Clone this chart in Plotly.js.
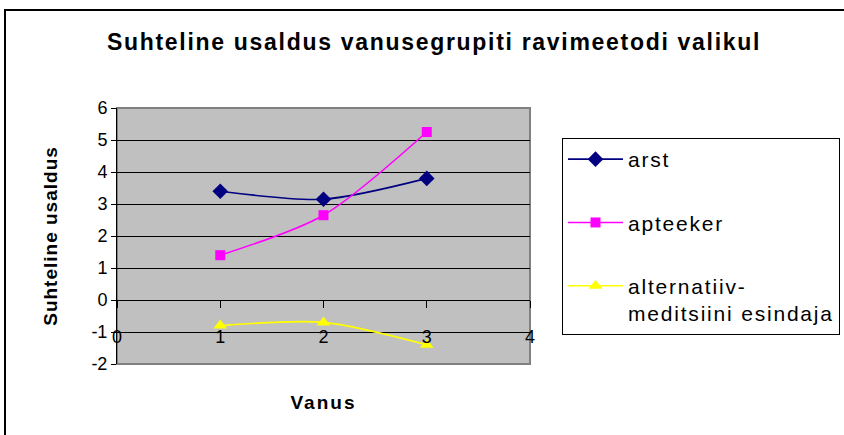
<!DOCTYPE html>
<html>
<head>
<meta charset="utf-8">
<script src="https://cdn.plot.ly/plotly-3.0.1.min.js"></script>
<style>
html,body{margin:0;padding:0;background:#fff;}
#chart{width:844px;height:435px;}
.gtitle{letter-spacing:1.7px;}
.ytitle{letter-spacing:1px;}
.xtitle{letter-spacing:2px;}
.legendtext{letter-spacing:1.8px;}
</style>
</head>
<body>
<div id="chart"></div>
<script>
const ages = [1, 2, 3];
const arst = [3.4, 3.15, 3.8];
const apteeker = [1.4, 2.65, 5.25];
const alternatiiv = [-0.8, -0.7, -1.4];
const seriesNames = ['arst', 'apteeker', 'alternatiiv-<br>meditsiini esindaja'];
const xTicks = [0, 1, 2, 3, 4];
const yTicks = [-2, -1, 0, 1, 2, 3, 4, 5, 6];

const FONT = 'Liberation Sans, Arial, sans-serif';
function tr(y, name, color, symbol, size, g) {
  return {
    x: ages, y: y, name: name, type: 'scatter', mode: 'lines+markers',
    legendgroup: g,
    line: {color: color, width: 1.6, shape: 'spline', smoothing: 0.8},
    marker: {color: color, symbol: symbol, size: size, line: {width: 0}}
  };
}
const data = [
  tr(arst, seriesNames[0], '#000080', 'diamond', 12, 'a'),
  tr(apteeker, seriesNames[1], '#FF00FF', 'square', 10, 'b'),
  tr(alternatiiv, seriesNames[2], '#FFFF00', 'triangle-up', 12, 'c')
];

const L = 117, R = 530, T = 108, B = 364;
const W = 844, H = 435;
const pw = R - L, ph = B - T;
function px(x) { return (x - L) / pw; }
function py(y) { return (B - y) / ph; }

const layout = {
  width: W, height: H,
  margin: {l: L, r: W - R, t: T, b: H - B, pad: 0, autoexpand: false},
  paper_bgcolor: '#ffffff',
  plot_bgcolor: '#C0C0C0',
  font: {family: FONT, color: '#000', size: 18},
  title: {text: '<b>Suhteline usaldus vanusegrupiti ravimeetodi valikul</b>',
          font: {family: FONT, size: 23, color: '#000'},
          x: px(434), xref: 'paper', xanchor: 'center', y: 1 - 42 / H, yref: 'container', yanchor: 'middle'},
  xaxis: {
    range: [0, 4], tickvals: xTicks, ticktext: xTicks.map(String),
    showgrid: false, zeroline: false,
    showline: true, linecolor: '#000', linewidth: 1,
    ticks: 'outside', ticklen: 7, tickcolor: '#000', tickwidth: 1,
    anchor: 'free', position: 0.25,
    ticklabelstandoff: 13,
    tickfont: {size: 18, family: FONT},
    title: {text: '<b>Vanus</b>', font: {size: 19, family: FONT}, standoff: 50}
  },
  yaxis: {
    range: [-2, 6], tickvals: yTicks, ticktext: yTicks.map(String),
    showgrid: true, gridcolor: '#000', gridwidth: 1,
    zeroline: false,
    showline: true, linecolor: '#000', linewidth: 1,
    ticks: 'outside', ticklen: 5, tickcolor: '#000', tickwidth: 1,
    tickfont: {size: 18, family: FONT},
    title: {text: '<b>Suhteline usaldus</b>', font: {size: 19, family: FONT}, standoff: 28}
  },
  showlegend: true,
  legend: {
    x: px(562), y: py(138), xanchor: 'left', yanchor: 'top',
    bgcolor: '#ffffff', bordercolor: '#000', borderwidth: 1,
    font: {size: 21, family: FONT, color: '#000'},
    traceorder: 'grouped', tracegroupgap: 33, valign: 'top',
    itemwidth: 55
  },
  shapes: [
    {type: 'rect', xref: 'paper', yref: 'paper', x0: 0, x1: 1, y0: 0, y1: 1,
     line: {color: '#808080', width: 2}, layer: 'below'},
    {type: 'rect', xref: 'paper', yref: 'paper', x0: px(5), x1: px(900), y0: py(10), y1: py(500),
     line: {color: '#000', width: 2}, fillcolor: 'rgba(0,0,0,0)', layer: 'above'}
  ]
};

Plotly.newPlot('chart', data, layout, {displayModeBar: false, staticPlot: true});
</script>
</body>
</html>
